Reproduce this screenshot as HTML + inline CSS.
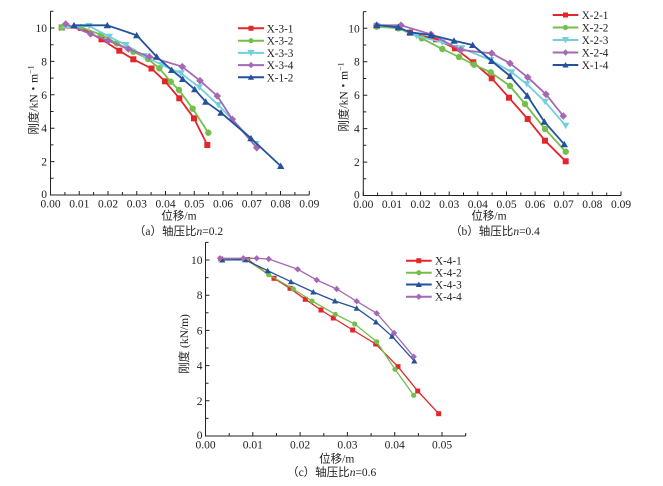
<!DOCTYPE html>
<html><head><meta charset="utf-8"><style>
html,body{margin:0;padding:0;background:#fff;}
svg{display:block;}
.t{font-family:"Liberation Serif","Noto Serif CJK SC",serif;font-size:11.5px;fill:#222;}
.c{font-family:"Liberation Serif","Noto Sans CJK SC",sans-serif;font-size:11.5px;fill:#222;}
.lg{font-family:"Liberation Serif",serif;font-size:11.2px;fill:#222;}
.ax{stroke:#222;stroke-width:1;fill:none;}
</style></head><body>
<svg width="663" height="486" viewBox="0 0 663 486" xmlns="http://www.w3.org/2000/svg">
<defs>
<marker id="rA" markerWidth="7" markerHeight="7" refX="3.5" refY="3.5" markerUnits="userSpaceOnUse"><rect x="0.5" y="0.5" width="6" height="6" fill="#e3262b"/></marker>
<marker id="gA" markerWidth="7" markerHeight="7" refX="3.5" refY="3.5" markerUnits="userSpaceOnUse"><circle cx="3.5" cy="3.5" r="3.2" fill="#74bf4c"/></marker>
<marker id="cA" markerWidth="8" markerHeight="8" refX="4" refY="4" markerUnits="userSpaceOnUse"><path d="M0.3,1 L7.7,1 L4,7.4Z" fill="#72cfdb"/></marker>
<marker id="pA" markerWidth="8" markerHeight="8" refX="4" refY="4" markerUnits="userSpaceOnUse"><path d="M4,0.2 L7.8,4 L4,7.8 L0.2,4Z" fill="#a468b4"/></marker>
<marker id="nA" markerWidth="8" markerHeight="8" refX="4" refY="4" markerUnits="userSpaceOnUse"><path d="M4,0.6 L7.7,7 L0.3,7Z" fill="#23519c"/></marker>
<marker id="rC" markerWidth="6" markerHeight="6" refX="3" refY="3" markerUnits="userSpaceOnUse"><rect x="0.5" y="0.5" width="5" height="5" fill="#e3262b"/></marker>
<marker id="gC" markerWidth="6" markerHeight="6" refX="3" refY="3" markerUnits="userSpaceOnUse"><circle cx="3" cy="3" r="2.6" fill="#74bf4c"/></marker>
<marker id="pC" markerWidth="7" markerHeight="7" refX="3.5" refY="3.5" markerUnits="userSpaceOnUse"><path d="M3.5,0.3 L6.7,3.5 L3.5,6.7 L0.3,3.5Z" fill="#a468b4"/></marker>
<marker id="nC" markerWidth="7" markerHeight="7" refX="3.5" refY="3.5" markerUnits="userSpaceOnUse"><path d="M3.5,0.5 L6.6,6 L0.4,6Z" fill="#23519c"/></marker>
</defs>
<rect width="663" height="486" fill="#fff"/>

<!-- ========== Chart (a) ========== -->
<path class="ax" d="M50.5,11.3 V195 H309.25"/>
<path class="ax" d="M50.5,195v-4M79.25,195v-4M108,195v-4M136.75,195v-4M165.5,195v-4M194.25,195v-4M223,195v-4M251.75,195v-4M280.5,195v-4M309.25,195v-4
M64.9,195v-3M93.6,195v-3M122.4,195v-3M151.1,195v-3M179.9,195v-3M208.6,195v-3M237.4,195v-3M266.1,195v-3M294.9,195v-3
M50.5,161.6h4M50.5,128.2h4M50.5,94.8h4M50.5,61.4h4M50.5,28h4
M50.5,178.3h3M50.5,144.9h3M50.5,111.5h3M50.5,78.1h3M50.5,44.7h3M50.5,11.3h3"/>
<g class="t" text-anchor="end">
<text x="47" y="198">0</text><text x="47" y="165.6">2</text><text x="47" y="132.2">4</text><text x="47" y="98.8">6</text><text x="47" y="65.4">8</text><text x="47" y="32">10</text>
</g>
<g class="t" text-anchor="middle">
<text x="50.5" y="207.7">0.00</text><text x="79.25" y="207.7">0.01</text><text x="108" y="207.7">0.02</text><text x="136.75" y="207.7">0.03</text><text x="165.5" y="207.7">0.04</text><text x="194.25" y="207.7">0.05</text><text x="223" y="207.7">0.06</text><text x="251.75" y="207.7">0.07</text><text x="280.5" y="207.7">0.08</text><text x="309.25" y="207.7">0.09</text>
</g>
<text class="c" text-anchor="middle" transform="translate(37.5,100) rotate(-90)">刚度/kN・m<tspan dy="-4" font-size="8">−1</tspan></text>
<text class="c" text-anchor="middle" x="179" y="219.5">位移/m</text>
<text class="c" text-anchor="middle" x="178.5" y="235">（a）轴压比<tspan font-style="italic">n</tspan>=0.2</text>

<g fill="none" stroke-width="1.8" stroke-linejoin="round">
<polyline stroke="#e3262b" marker-start="url(#rA)" marker-mid="url(#rA)" marker-end="url(#rA)" points="61.7,27.5 81,28 101.5,39.3 119.3,50.7 133.3,59.3 151.5,68.5 165,81.3 179.3,98.3 194,118.3 207.3,145"/>
<polyline stroke="#74bf4c" marker-start="url(#gA)" marker-mid="url(#gA)" marker-end="url(#gA)" points="61.7,27.3 81,27.3 101,34.7 116.7,43.3 133.3,51.7 148,59 159.3,68.3 170.7,81.7 179,90 192.7,108.7 208.3,132.7"/>
<polyline stroke="#72cfdb" marker-mid="url(#cA)" marker-end="url(#cA)" points="61.7,27.5 89,26 109.3,36.7 126,45 144,56 162.3,65 181,73.3 199.3,87.3 218.3,105 256,144"/>
<polyline stroke="#a468b4" marker-start="url(#pA)" marker-mid="url(#pA)" marker-end="url(#pA)" points="65.7,24 90.7,34 108.3,40.7 128.3,49 149.3,56.7 182.3,66.7 200,80.7 217.3,96 232.3,119.3 256.7,147.7"/>
<polyline stroke="#23519c" marker-start="url(#nA)" marker-mid="url(#nA)" marker-end="url(#nA)" points="74,25.3 107.3,25.3 136.7,35.3 156.7,56.7 171.7,70 182.7,79 194.7,89.3 205.7,101.7 221,112.7 251,138.3 280.7,166"/>
</g>
<g fill="none" stroke-width="2">
<polyline stroke="#e3262b" marker-mid="url(#rC)" points="238,28.3 251,28.3 264,28.3"/>
<polyline stroke="#74bf4c" marker-mid="url(#gC)" points="238,40.7 251,40.7 264,40.7"/>
<polyline stroke="#72cfdb" marker-mid="url(#cA)" points="238,52.9 251,52.9 264,52.9"/>
<polyline stroke="#a468b4" marker-mid="url(#pC)" points="238,65.1 251,65.1 264,65.1"/>
<polyline stroke="#23519c" marker-mid="url(#nC)" points="238,77.3 251,77.3 264,77.3"/>
</g>
<g class="lg">
<text x="266.7" y="32.3">X-3-1</text><text x="266.7" y="44.7">X-3-2</text><text x="266.7" y="56.9">X-3-3</text><text x="266.7" y="69.1">X-3-4</text><text x="266.7" y="81.3">X-1-2</text>
</g>

<!-- ========== Chart (b) ========== -->
<path class="ax" d="M363.3,11.6 V195.5 H621"/>
<path class="ax" d="M363.3,195.5v-4M391.9,195.5v-4M420.6,195.5v-4M449.2,195.5v-4M477.8,195.5v-4M506.5,195.5v-4M535.1,195.5v-4M563.7,195.5v-4M592.3,195.5v-4M621,195.5v-4
M377.6,195.5v-3M406.2,195.5v-3M434.9,195.5v-3M463.5,195.5v-3M492.1,195.5v-3M520.8,195.5v-3M549.4,195.5v-3M578,195.5v-3M606.7,195.5v-3
M363.3,162.1h4M363.3,128.6h4M363.3,95.2h4M363.3,61.7h4M363.3,28.3h4
M363.3,178.8h3M363.3,145.3h3M363.3,111.9h3M363.3,78.5h3M363.3,45h3M363.3,11.6h3"/>
<g class="t" text-anchor="end">
<text x="359.8" y="198.5">0</text><text x="359.8" y="166.1">2</text><text x="359.8" y="132.6">4</text><text x="359.8" y="99.2">6</text><text x="359.8" y="65.7">8</text><text x="359.8" y="32.3">10</text>
</g>
<g class="t" text-anchor="middle">
<text x="363.3" y="208.2">0.00</text><text x="391.9" y="208.2">0.01</text><text x="420.6" y="208.2">0.02</text><text x="449.2" y="208.2">0.03</text><text x="477.8" y="208.2">0.04</text><text x="506.5" y="208.2">0.05</text><text x="535.1" y="208.2">0.06</text><text x="563.7" y="208.2">0.07</text><text x="592.3" y="208.2">0.08</text><text x="621" y="208.2">0.09</text>
</g>
<text class="c" text-anchor="middle" transform="translate(347.5,97) rotate(-90)">刚度/kN・m<tspan dy="-4" font-size="8">−1</tspan></text>
<text class="c" text-anchor="middle" x="489" y="219.5">位移/m</text>
<text class="c" text-anchor="middle" x="495" y="235">（b）轴压比<tspan font-style="italic">n</tspan>=0.4</text>

<g fill="none" stroke-width="1.8" stroke-linejoin="round">
<polyline stroke="#e3262b" marker-start="url(#rA)" marker-mid="url(#rA)" marker-end="url(#rA)" points="376.7,26 398.3,27.5 410,32.7 436,39.3 455,48.3 473.3,62.3 491.7,78.3 509,97.7 527.7,119 545,140.7 565.7,161.3"/>
<polyline stroke="#74bf4c" marker-start="url(#gA)" marker-mid="url(#gA)" marker-end="url(#gA)" points="376.7,26.7 398.3,28.3 421.7,38.3 442.3,49 459,57 474,64.7 490.7,72.3 510,86 525,104 545,129 565.7,151.7"/>
<polyline stroke="#72cfdb" marker-start="url(#cA)" marker-mid="url(#cA)" marker-end="url(#cA)" points="376.7,25.7 398.3,27.3 416.7,36 442.3,42.3 461.7,48.3 490.7,60 511.7,72.3 526.7,84 545,101.7 565.7,125.7"/>
<polyline stroke="#a468b4" marker-start="url(#pA)" marker-mid="url(#pA)" marker-end="url(#pA)" points="376.7,25.3 401,25.3 431,34.3 460.7,50 491.7,53.3 510,63.3 527.7,77.3 546,94.3 563.3,116"/>
<polyline stroke="#23519c" marker-start="url(#nA)" marker-mid="url(#nA)" marker-end="url(#nA)" points="376.7,25 398.3,27.3 410,32.3 431,35 454,40.7 472.7,45 491.7,61 510,76 527.3,95.7 544.3,121.7 564.3,144.3"/>
</g>
<g fill="none" stroke-width="2">
<polyline stroke="#e3262b" marker-mid="url(#rC)" points="552.7,15 565.5,15 578.3,15"/>
<polyline stroke="#74bf4c" marker-mid="url(#gC)" points="552.7,27.5 565.5,27.5 578.3,27.5"/>
<polyline stroke="#72cfdb" marker-mid="url(#cA)" points="552.7,40 565.5,40 578.3,40"/>
<polyline stroke="#a468b4" marker-mid="url(#pC)" points="552.7,52.5 565.5,52.5 578.3,52.5"/>
<polyline stroke="#23519c" marker-mid="url(#nC)" points="552.7,65 565.5,65 578.3,65"/>
</g>
<g class="lg">
<text x="581.7" y="19">X-2-1</text><text x="581.7" y="31.5">X-2-2</text><text x="581.7" y="44">X-2-3</text><text x="581.7" y="56.5">X-2-4</text><text x="581.7" y="69">X-1-4</text>
</g>

<!-- ========== Chart (c) ========== -->
<path class="ax" d="M205.5,242.4 V436 H465.7"/>
<path class="ax" d="M205.5,436v-4M252.8,436v-4M300.1,436v-4M347.4,436v-4M394.7,436v-4M442,436v-4
M229.2,436v-3M276.5,436v-3M323.8,436v-3M371.1,436v-3M418.4,436v-3M465.7,436v-3
M205.5,400.8h4M205.5,365.6h4M205.5,330.4h4M205.5,295.2h4M205.5,260h4
M205.5,418.4h3M205.5,383.2h3M205.5,348h3M205.5,312.8h3M205.5,277.6h3M205.5,242.4h3"/>
<g class="t" text-anchor="end">
<text x="202.5" y="439">0</text><text x="202.5" y="404.8">2</text><text x="202.5" y="369.6">4</text><text x="202.5" y="334.4">6</text><text x="202.5" y="299.2">8</text><text x="202.5" y="264">10</text>
</g>
<g class="t" text-anchor="middle">
<text x="205.5" y="448.3">0.00</text><text x="252.8" y="448.3">0.01</text><text x="300.1" y="448.3">0.02</text><text x="347.4" y="448.3">0.03</text><text x="394.7" y="448.3">0.04</text><text x="442" y="448.3">0.05</text>
</g>
<text class="c" text-anchor="middle" transform="translate(188,344) rotate(-90)">刚度 (kN/m)</text>
<text class="c" text-anchor="middle" x="336.7" y="462.5">位移/m</text>
<text class="c" text-anchor="middle" x="331.7" y="476">（c）轴压比<tspan font-style="italic">n</tspan>=0.6</text>

<g fill="none" stroke-width="1.3" stroke-linejoin="round">
<polyline stroke="#e3262b" marker-start="url(#rC)" marker-mid="url(#rC)" marker-end="url(#rC)" points="220.7,259 247.7,259.5 274,278.3 290,288.3 305.3,299.3 321,310 333.3,318 352.7,330 375.7,344 398,366.7 417.7,391 438.7,413.7"/>
<polyline stroke="#74bf4c" marker-start="url(#gC)" marker-mid="url(#gC)" marker-end="url(#gC)" points="220.7,259.3 246.7,260 268.7,274.7 293.3,289 312,301 335.3,314.3 354.7,324 376.7,341.7 395,369.3 413.7,395.3"/>
<polyline stroke="#23519c" marker-start="url(#nC)" marker-mid="url(#nC)" marker-end="url(#nC)" points="222.3,260 245,259.7 267.7,270.7 291,281.7 313.3,292 335,301 356.7,308.3 376,322 392,336.3 414.3,361"/>
<polyline stroke="#a468b4" marker-start="url(#pC)" marker-mid="url(#pC)" marker-end="url(#pC)" points="220,258.3 243.3,258.3 256.7,258.3 268.7,259 297.7,269.3 316.7,280 336.7,289 356.7,301.3 376.7,313.3 394,333 413.7,356.7"/>
</g>
<g fill="none" stroke-width="2">
<polyline stroke="#e3262b" marker-mid="url(#rC)" points="406,260.7 418.8,260.7 431.7,260.7"/>
<polyline stroke="#74bf4c" marker-mid="url(#gC)" points="406,272.7 418.8,272.7 431.7,272.7"/>
<polyline stroke="#23519c" marker-mid="url(#nC)" points="406,284.5 418.8,284.5 431.7,284.5"/>
<polyline stroke="#a468b4" marker-mid="url(#pC)" points="406,296.7 418.8,296.7 431.7,296.7"/>
</g>
<g class="lg">
<text x="435" y="264.7">X-4-1</text><text x="435" y="276.7">X-4-2</text><text x="435" y="288.5">X-4-3</text><text x="435" y="300.7">X-4-4</text>
</g>
</svg>
</body></html>
